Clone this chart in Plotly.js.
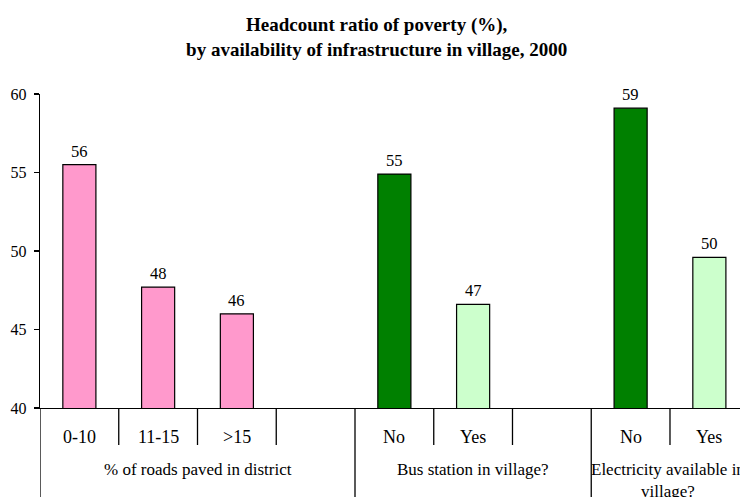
<!DOCTYPE html>
<html>
<head>
<meta charset="utf-8">
<script src="https://cdn.plot.ly/plotly-3.0.1.min.js"></script>
<style>html,body{margin:0;padding:0;background:#fff;}#chart{width:740px;height:497px;}</style>
</head>
<body>
<div id="chart"></div>
<script>
// ---- data ----
const titleText = 'Headcount ratio of poverty (%),<br>by availability of infrastructure in village, 2000';
const groupNames = ['% of roads paved in district', 'Bus station in village?', 'Electricity available in<br>village?'];
const roadsCats = ['0-10', '11-15', '>15'];
const roadsVals = [55.5, 47.7, 46.0];
const busCats = ['No', 'Yes'];
const busVals = [54.9, 46.6];
const elecCats = ['No', 'Yes'];
const elecVals = [59.1, 49.6];
const roadsColors = ['#FF99CC', '#FF99CC', '#FF99CC'];
const busColors = ['#008000', '#CCFFCC'];
const elecColors = ['#008000', '#CCFFCC'];
const yTicks = [40, 45, 50, 55, 60];

// ---- build slots (each group followed by one blank slot) ----
const groups = [
  {name: groupNames[0], cats: roadsCats, vals: roadsVals, cols: roadsColors},
  {name: groupNames[1], cats: busCats, vals: busVals, cols: busColors},
  {name: groupNames[2], cats: elecCats, vals: elecVals, cols: elecColors}
];
const FONT = "'Liberation Serif', 'Times New Roman', Times, serif";
const xs = [], ys = [], cs = [], annotations = [], shapes = [];
let slot = 0;
const groupStarts = [];
groups.forEach((g, gi) => {
  groupStarts.push(slot);
  g.cats.forEach((c, i) => {
    xs.push(slot); ys.push(g.vals[i]); cs.push(g.cols[i]);
    annotations.push({x: slot, y: -0.0914, xref: 'x', yref: 'paper', text: c, showarrow: false,
      font: {family: FONT, size: 18, color: '#000'}, yanchor: 'middle'});
    annotations.push({x: slot, y: g.vals[i], xref: 'x', yref: 'y', text: String(Math.round(g.vals[i])),
      showarrow: false, yanchor: 'bottom', yshift: 2, font: {family: FONT, size: 16.5, color: '#000'}});
    slot++;
  });
  slot++; // blank slot
});
const totalSlots = slot;
// group labels
groups.forEach((g, gi) => {
  const start = groupStarts[gi];
  const end = gi < groups.length - 1 ? groupStarts[gi + 1] : totalSlots;
  let cx = (start + end) / 2 - 0.5;
  let yy = -0.197;
  if (gi === groups.length - 1) { cx = 7.475; yy = -0.231; }
  annotations.push({x: cx, y: yy, xref: 'x', yref: 'paper', text: g.name, showarrow: false,
    font: {family: FONT, size: 17, color: '#000'}, yanchor: 'middle'});
});
// separators
for (let k = 0; k <= totalSlots; k++) {
  const isGroup = groupStarts.includes(k);
  shapes.push({type: 'line', xref: 'x', yref: 'paper', x0: k - 0.5, x1: k - 0.5,
    y0: 0, y1: isGroup ? -0.32 : -0.1178, line: {color: '#000', width: 1.3}});
}

const trace = {
  type: 'bar', x: xs, y: ys, width: 0.42,
  marker: {color: cs, line: {color: '#000', width: 1.2}},
  hoverinfo: 'skip'
};
const layout = {
  width: 740, height: 497,
  margin: {l: 40, r: 0, t: 94, b: 89},
  paper_bgcolor: '#fff', plot_bgcolor: '#fff',
  showlegend: false,
  font: {family: FONT, size: 15, color: '#000'},
  title: {text: titleText, font: {family: FONT, size: 19, color: '#000', weight: 'bold'},
    x: 0.481, xanchor: 'center', xref: 'paper', y: 1 - 31 / 497, yanchor: 'middle', yref: 'container'},
  xaxis: {range: [-0.5, 8.389], showgrid: false, zeroline: false, showticklabels: false,
    showline: true, linecolor: '#000', linewidth: 1.3, ticks: '', fixedrange: true},
  yaxis: {range: [40, 60], tickvals: yTicks, ticktext: yTicks.map(String), showgrid: false, zeroline: false,
    showline: true, linecolor: '#000', linewidth: 1.3, ticks: 'outside', ticklen: 5, tickwidth: 1.3,
    tickcolor: '#000', ticklabelstandoff: 4, tickfont: {family: FONT, size: 16, color: '#000'}},
  shapes: shapes,
  annotations: annotations
};
Plotly.newPlot('chart', [trace], layout, {staticPlot: true, displayModeBar: false});
</script>
</body>
</html>
